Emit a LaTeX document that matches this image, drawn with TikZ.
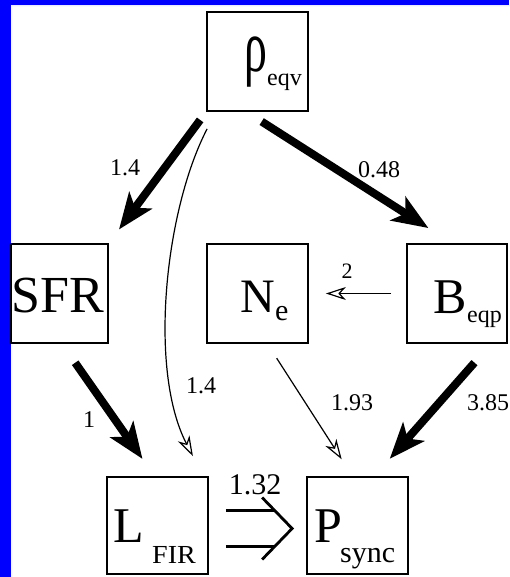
\documentclass[tikz,border=0pt]{standalone}
\usepackage{fontspec}
\setmainfont{Liberation Serif}
\usetikzlibrary{arrows.meta,calc}
\definecolor{bblue}{RGB}{0,0,255}
\newcommand{\fsz}[1]{\fontsize{#1}{#1}\selectfont}
\begin{document}
\begin{tikzpicture}[x=1pt,y=-1pt,
 box/.style={draw, line width=1.8pt, inner sep=0pt, minimum width=101pt, minimum height=99pt},
 txt/.style={inner sep=0pt, anchor=base west},
 lbl/.style={inner sep=0pt, font=\fsz{24}},
 bigarrow/.style={line width=8pt, -{Stealth[length=36pt,width=28pt,inset=9pt]}},
 smallarrow/.style={line width=1.2pt, -{Stealth[open,length=20pt,width=13pt,inset=6pt]}},
 dbl/.style={line width=2.8pt}]
\useasboundingbox (0,0) rectangle (509,577);
\fill[bblue] (0,0) rectangle (10.5,577);
\fill[bblue] (0,0) rectangle (509,5);
% boxes
\node[box] (rho) at (257.5,61.5) {};
\node[box, minimum width=97pt] (SFR) at (59.5,293.5) {};
\node[box] (N) at (257.5,293.5) {};
\node[box, minimum width=100pt] (B) at (457,293.5) {};
\node[box, minimum height=97pt] (L) at (157.5,525.5) {};
\node[box, minimum height=97pt] (P) at (357.5,525.5) {};
% texts
\node[txt] (trho) at (244,72) {\fsz{74}\scalebox{0.62}[1]{ρ}};
\node[txt] (teqv) at (267,86) {\fsz{24}eqv};
\node[txt] (tSFR) at (11,312) {\fsz{52}SFR};
\node[txt] (tN) at (240,312) {\fsz{48}N};
\node[txt] (te) at (275,320) {\fsz{30}e};
\node[txt] (tB) at (433,313) {\fsz{50}B};
\node[txt] (teqp) at (467,322) {\fsz{24}eqp};
\node[txt] (tL) at (113,542) {\fsz{50}L};
\node[txt] (tFIR) at (152,563) {\scalebox{1.08}[1]{\fsz{26}FIR}};
\node[txt] (tP) at (314,542) {\fsz{50}P};
\node[txt] (tsync) at (340,562) {\fsz{30}sync};
% labels
\node[lbl] (l1) at (125,168) {1.4};
\node[lbl] (l2) at (379,170) {0.48};
\node[lbl, font=\fsz{22}] (l3) at (347,271) {2};
\node[lbl] (l4) at (89,420) {1};
\node[lbl] (l5) at (201,386) {1.4};
\node[lbl] (l6) at (352,403) {1.93};
\node[lbl] (l7) at (488,403) {3.85};
\node[lbl, font=\fsz{30}] (l8) at (255,485) {1.32};
% connectors
\draw[bigarrow, shorten <=10pt, shorten >=17pt] (rho.south west) -- (SFR.north east);
\draw[bigarrow, shorten <=18pt, shorten >=28pt] ($(rho.south)+(-11,0)$) -- ($(B.north)+(-5,0)$);
\draw[bigarrow, shorten <=23pt, shorten >=21pt] ($(SFR.south)+(2.5,0)$) -- ($(L.north)+(-3,0)$);
\draw[bigarrow, shorten <=25pt, shorten >=23pt] ($(B.south)+(34,0)$) -- ($(P.north)+(17,0)$);
\draw[smallarrow, shorten <=17pt, shorten >=20pt] ($(N.south)+(10,0)$) -- ($(P.north)+(-5,0)$);
\draw[smallarrow, shorten <=15pt, shorten >=17pt] (B.west) -- (N.east);
\draw[smallarrow] ($(rho.south west)+(1,17)$) .. controls (165,210) and (148,370) .. ($(L.north east)+(-16,-20)$);
% double implication arrow
\draw[dbl] ($(L.east)+(17,-15)$) -- ($(P.west)+(-31,-15)$);
\draw[dbl] ($(L.east)+(17,21)$) -- ($(P.west)+(-31,21)$);
\draw[dbl, line join=miter] ($(P.west)+(-44,-28)$) -- ($(P.west)+(-14,3)$) -- ($(P.west)+(-44,34)$);
\end{tikzpicture}
\end{document}
